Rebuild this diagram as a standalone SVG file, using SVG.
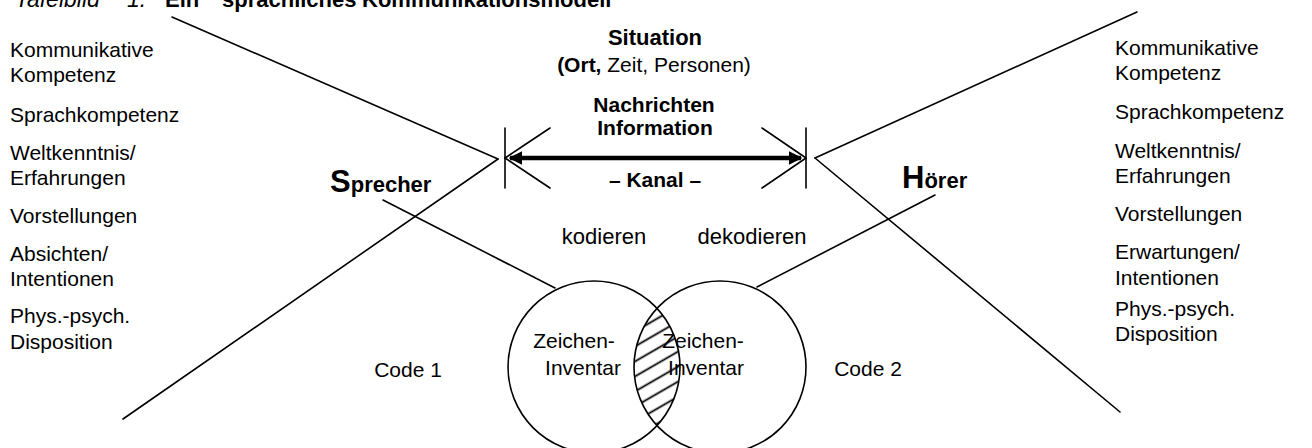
<svg xmlns="http://www.w3.org/2000/svg" width="1312" height="448" viewBox="0 0 1312 448">
<style>
text{font-family:"Liberation Sans",Arial,sans-serif;fill:#000}
.t{font-size:21px}
.b{font-weight:bold}
.ln{stroke:#000;stroke-width:1.6;fill:none;stroke-linecap:round}
.c{stroke:#000;stroke-width:1.6;fill:none}
</style>
<defs>
<pattern id="hatch" width="13" height="13" patternUnits="userSpaceOnUse" patternTransform="rotate(-30)">
<line x1="0" y1="6.5" x2="13" y2="6.5" stroke="#000" stroke-width="1.8"/>
</pattern>
<marker id="ah" viewBox="0 0 10 10" refX="9" refY="5" markerWidth="3" markerHeight="3" orient="auto-start-reverse">
<path d="M0 0L10 5L0 10Z" fill="#000"/>
</marker>
</defs>
<rect width="1312" height="448" fill="#fff"/>
<g id="title">
<text x="15" y="7" font-size="23" font-style="italic">Tafelbild</text>
<text x="127" y="7" font-size="23" font-style="italic">1:</text>
<text x="165" y="7" font-size="22" class="b">Ein</text>
<text x="222" y="7" font-size="22" class="b">sprachliches</text>
<text x="362" y="7" font-size="22" class="b">Kommunikationsmodell</text>
</g>
<g id="connectors">
<line class="ln" x1="172" y1="17" x2="498" y2="159"/>
<line class="ln" x1="498" y1="159" x2="123" y2="419"/>
<line class="ln" x1="815" y1="158" x2="1137" y2="12"/>
<line class="ln" x1="815" y1="158" x2="1120" y2="412"/>
<line class="ln" x1="383" y1="200" x2="555" y2="288"/>
<line class="ln" x1="935" y1="195" x2="757" y2="287"/>
<line class="ln" x1="505" y1="128" x2="505" y2="188"/>
<line class="ln" x1="806" y1="128" x2="806" y2="188"/>
<line class="ln" x1="505" y1="158" x2="550" y2="128"/>
<line class="ln" x1="505" y1="158" x2="550" y2="188"/>
<line class="ln" x1="806" y1="158" x2="762" y2="128"/>
<line class="ln" x1="806" y1="158" x2="762" y2="188"/>
<line x1="510" y1="158" x2="801" y2="158" stroke="#000" stroke-width="4.5" marker-start="url(#ah)" marker-end="url(#ah)"/>
</g>
<g id="situation">
<text x="655" y="45" text-anchor="middle" class="b" font-size="22">Situation</text>
<text x="654" y="72" text-anchor="middle" font-size="21"><tspan class="b">(Ort,</tspan> Zeit, Personen)</text>
</g>
<g id="kanal">
<text x="654" y="112" text-anchor="middle" class="b" font-size="21">Nachrichten</text>
<text x="655" y="135" text-anchor="middle" class="b" font-size="21">Information</text>
<text x="655" y="187" text-anchor="middle" class="b" font-size="21">– Kanal –</text>
</g>
<g id="sprecher">
<text x="330" y="192" class="b"><tspan font-size="31">S</tspan><tspan font-size="22">precher</tspan></text>
<text x="10" y="57" class="t">Kommunikative</text>
<text x="10" y="82" class="t">Kompetenz</text>
<text x="10" y="122" class="t">Sprachkompetenz</text>
<text x="10" y="160" class="t">Weltkenntnis/</text>
<text x="10" y="185" class="t">Erfahrungen</text>
<text x="10" y="223" class="t">Vorstellungen</text>
<text x="10" y="261" class="t">Absichten/</text>
<text x="10" y="286" class="t">Intentionen</text>
<text x="10" y="323" class="t">Phys.-psych.</text>
<text x="10" y="349" class="t">Disposition</text>
</g>
<g id="hoerer">
<text x="902" y="188" class="b"><tspan font-size="31">H</tspan><tspan font-size="22">örer</tspan></text>
<text x="1115" y="55" class="t">Kommunikative</text>
<text x="1115" y="80" class="t">Kompetenz</text>
<text x="1115" y="119" class="t">Sprachkompetenz</text>
<text x="1115" y="158" class="t">Weltkenntnis/</text>
<text x="1115" y="183" class="t">Erfahrungen</text>
<text x="1115" y="221" class="t">Vorstellungen</text>
<text x="1115" y="259" class="t">Erwartungen/</text>
<text x="1115" y="285" class="t">Intentionen</text>
<text x="1115" y="316" class="t">Phys.-psych.</text>
<text x="1115" y="341" class="t">Disposition</text>
</g>
<g id="coding">
<text x="604" y="244" text-anchor="middle" font-size="22">kodieren</text>
<text x="752" y="244" text-anchor="middle" font-size="22">dekodieren</text>
<text x="408" y="377" text-anchor="middle" class="t">Code 1</text>
<text x="868" y="376" text-anchor="middle" class="t">Code 2</text>
</g>
<g id="code1">
<circle class="c" cx="594" cy="367" r="86"/>
<text x="574" y="348" text-anchor="middle" class="t">Zeichen-</text>
<text x="583" y="375" text-anchor="middle" class="t">Inventar</text>
</g>
<g id="code2">
<circle class="c" cx="720" cy="367" r="86"/>
<text x="703" y="348" text-anchor="middle" class="t">Zeichen-</text>
<text x="706" y="375" text-anchor="middle" class="t">Inventar</text>
</g>
<g id="overlap">
<path d="M657 308.5A86 86 0 0 1 657 425.5A86 86 0 0 1 657 308.5Z" fill="url(#hatch)" stroke="none"/>
</g>
</svg>
